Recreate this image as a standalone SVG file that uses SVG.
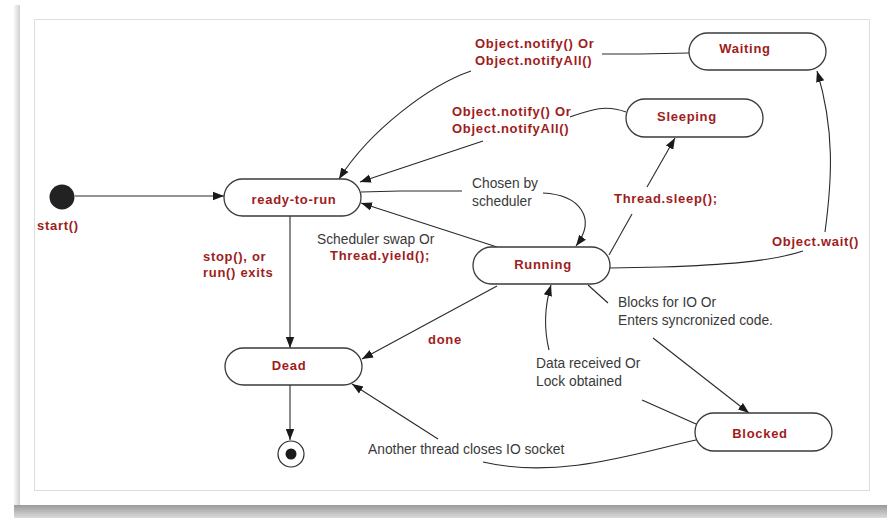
<svg xmlns="http://www.w3.org/2000/svg" width="887" height="518" viewBox="0 0 887 518">
  <defs>
    <linearGradient id="shB" x1="0" y1="0" x2="0" y2="1">
      <stop offset="0" stop-color="#9a9a9a"/>
      <stop offset="1" stop-color="#dcdcdc"/>
    </linearGradient>
    <linearGradient id="shL" x1="0" y1="0" x2="1" y2="0">
      <stop offset="0" stop-color="#ffffff"/>
      <stop offset="1" stop-color="#c8c8c8"/>
    </linearGradient>
    <marker id="arr" markerUnits="userSpaceOnUse" markerWidth="12" markerHeight="10" refX="11" refY="5" orient="auto">
      <path d="M0,0.8 L11,5 L0,9.2 Z" fill="#1a1a1a"/>
    </marker>
  </defs>
  <style>
    .node rect { fill: #ffffff; stroke: #3a3a3a; stroke-width: 1.3; }
    .red { font-family: "Liberation Sans", Arial, sans-serif; font-weight: bold; font-size: 13px; letter-spacing: 0.7px; fill: #9e1d1d; }
    .gray { font-family: "Liberation Sans", Arial, sans-serif; font-size: 13.8px; fill: #3a3a3a; }
    .mid { text-anchor: middle; }
    #connectors path { fill: none; stroke: #2a2a2a; stroke-width: 1.1; }
  </style>

  <!-- card background -->
  <rect x="0" y="0" width="887" height="518" fill="#ffffff"/>
  <rect x="13" y="5" width="8" height="500" fill="url(#shL)"/>
  <rect x="14" y="505" width="873" height="13" fill="url(#shB)"/>
  <rect x="20" y="5" width="863" height="500" fill="#ffffff"/>
  <rect x="34.5" y="19.5" width="835" height="471" fill="none" stroke="#dddddd" stroke-width="1"/>

  <g id="connectors">
    <path d="M75,196 L224,196" marker-end="url(#arr)"/>
    <path d="M290,216 L290,348" marker-end="url(#arr)"/>
    <path d="M290,385 L290,440" marker-end="url(#arr)"/>
    <!-- Waiting -> ready-to-run -->
    <path d="M689,53 L640,54 L602,54"/>
    <path d="M471,71 C430,85 370,130 339,179" marker-end="url(#arr)"/>
    <!-- Sleeping -> ready-to-run -->
    <path d="M626,112 C605,104 590,110 570,117"/>
    <path d="M483,141 L360,182" marker-end="url(#arr)"/>
    <!-- ready-to-run -> Running (chosen) -->
    <path d="M361,192 L400,191 L462,191"/>
    <path d="M543,193 C580,195 597,218 576,246" marker-end="url(#arr)"/>
    <!-- Running -> ready-to-run (swap) -->
    <path d="M497,247 L361,203" marker-end="url(#arr)"/>
    <!-- Running -> Sleeping -->
    <path d="M609,255 L632,214"/>
    <path d="M647,187 L675,138" marker-end="url(#arr)"/>
    <!-- Running -> Waiting -->
    <path d="M610,268 L662,267 C720,265 770,262 803,251"/>
    <path d="M825,232 C832,180 835,130 817,71" marker-end="url(#arr)"/>
    <!-- Running -> Dead (done) -->
    <path d="M497,286 L362,359" marker-end="url(#arr)"/>
    <!-- Running -> Blocked -->
    <path d="M588,285 L608,303"/>
    <path d="M653,338 L749,413" marker-end="url(#arr)"/>
    <!-- Blocked -> Running -->
    <path d="M696,424 L642,400"/>
    <path d="M549,350 C543,325 545,305 551,285" marker-end="url(#arr)"/>
    <!-- Blocked -> Dead -->
    <path d="M696,440 C640,452 560,480 483,462"/>
    <path d="M438,439 L352,384" marker-end="url(#arr)"/>
  </g>

  <g id="start">
    <circle cx="62" cy="197" r="12.5" fill="#222222"/>
    <text class="red" x="37" y="230">start()</text>
  </g>
  <g id="ready-to-run" class="node">
    <rect x="224" y="179" width="137" height="37" rx="18.5"/>
    <text class="red mid" x="294" y="204">ready-to-run</text>
  </g>
  <g id="waiting" class="node">
    <rect x="689" y="33" width="137" height="37" rx="18.5"/>
    <text class="red mid" x="745" y="53">Waiting</text>
  </g>
  <g id="sleeping" class="node">
    <rect x="626" y="99" width="137" height="38" rx="19"/>
    <text class="red mid" x="687" y="121">Sleeping</text>
  </g>
  <g id="running" class="node">
    <rect x="473" y="247" width="137" height="37" rx="18.5"/>
    <text class="red mid" x="543" y="269">Running</text>
  </g>
  <g id="dead" class="node">
    <rect x="225" y="348" width="137" height="37" rx="18.5"/>
    <text class="red mid" x="289" y="370">Dead</text>
  </g>
  <g id="blocked" class="node">
    <rect x="695" y="413" width="137" height="38" rx="19"/>
    <text class="red mid" x="760" y="438">Blocked</text>
  </g>
  <g id="end">
    <circle cx="291" cy="454" r="13" fill="#ffffff" stroke="#2a2a2a" stroke-width="1.2"/>
    <circle cx="291" cy="454" r="5.5" fill="#1a1a1a"/>
  </g>

  <g id="labels">
    <text class="red" x="475" y="48">Object.notify() Or</text>
    <text class="red" x="475" y="65">Object.notifyAll()</text>
    <text class="red" x="452" y="116">Object.notify() Or</text>
    <text class="red" x="452" y="133">Object.notifyAll()</text>
    <text class="gray" x="472" y="188">Chosen by</text>
    <text class="gray" x="472" y="206">scheduler</text>
    <text class="red" x="614" y="203">Thread.sleep();</text>
    <text class="red" x="772" y="246">Object.wait()</text>
    <text class="gray" x="317" y="244">Scheduler swap Or</text>
    <text class="red" x="330" y="260">Thread.yield();</text>
    <text class="red" x="203" y="261">stop(), or</text>
    <text class="red" x="203" y="277">run() exits</text>
    <text class="gray" x="618" y="307">Blocks for IO Or</text>
    <text class="gray" x="618" y="325">Enters syncronized code.</text>
    <text class="red" x="428" y="344">done</text>
    <text class="gray" x="536" y="368">Data received Or</text>
    <text class="gray" x="536" y="386">Lock obtained</text>
    <text class="gray" x="368" y="454">Another thread closes IO socket</text>
  </g>
</svg>
